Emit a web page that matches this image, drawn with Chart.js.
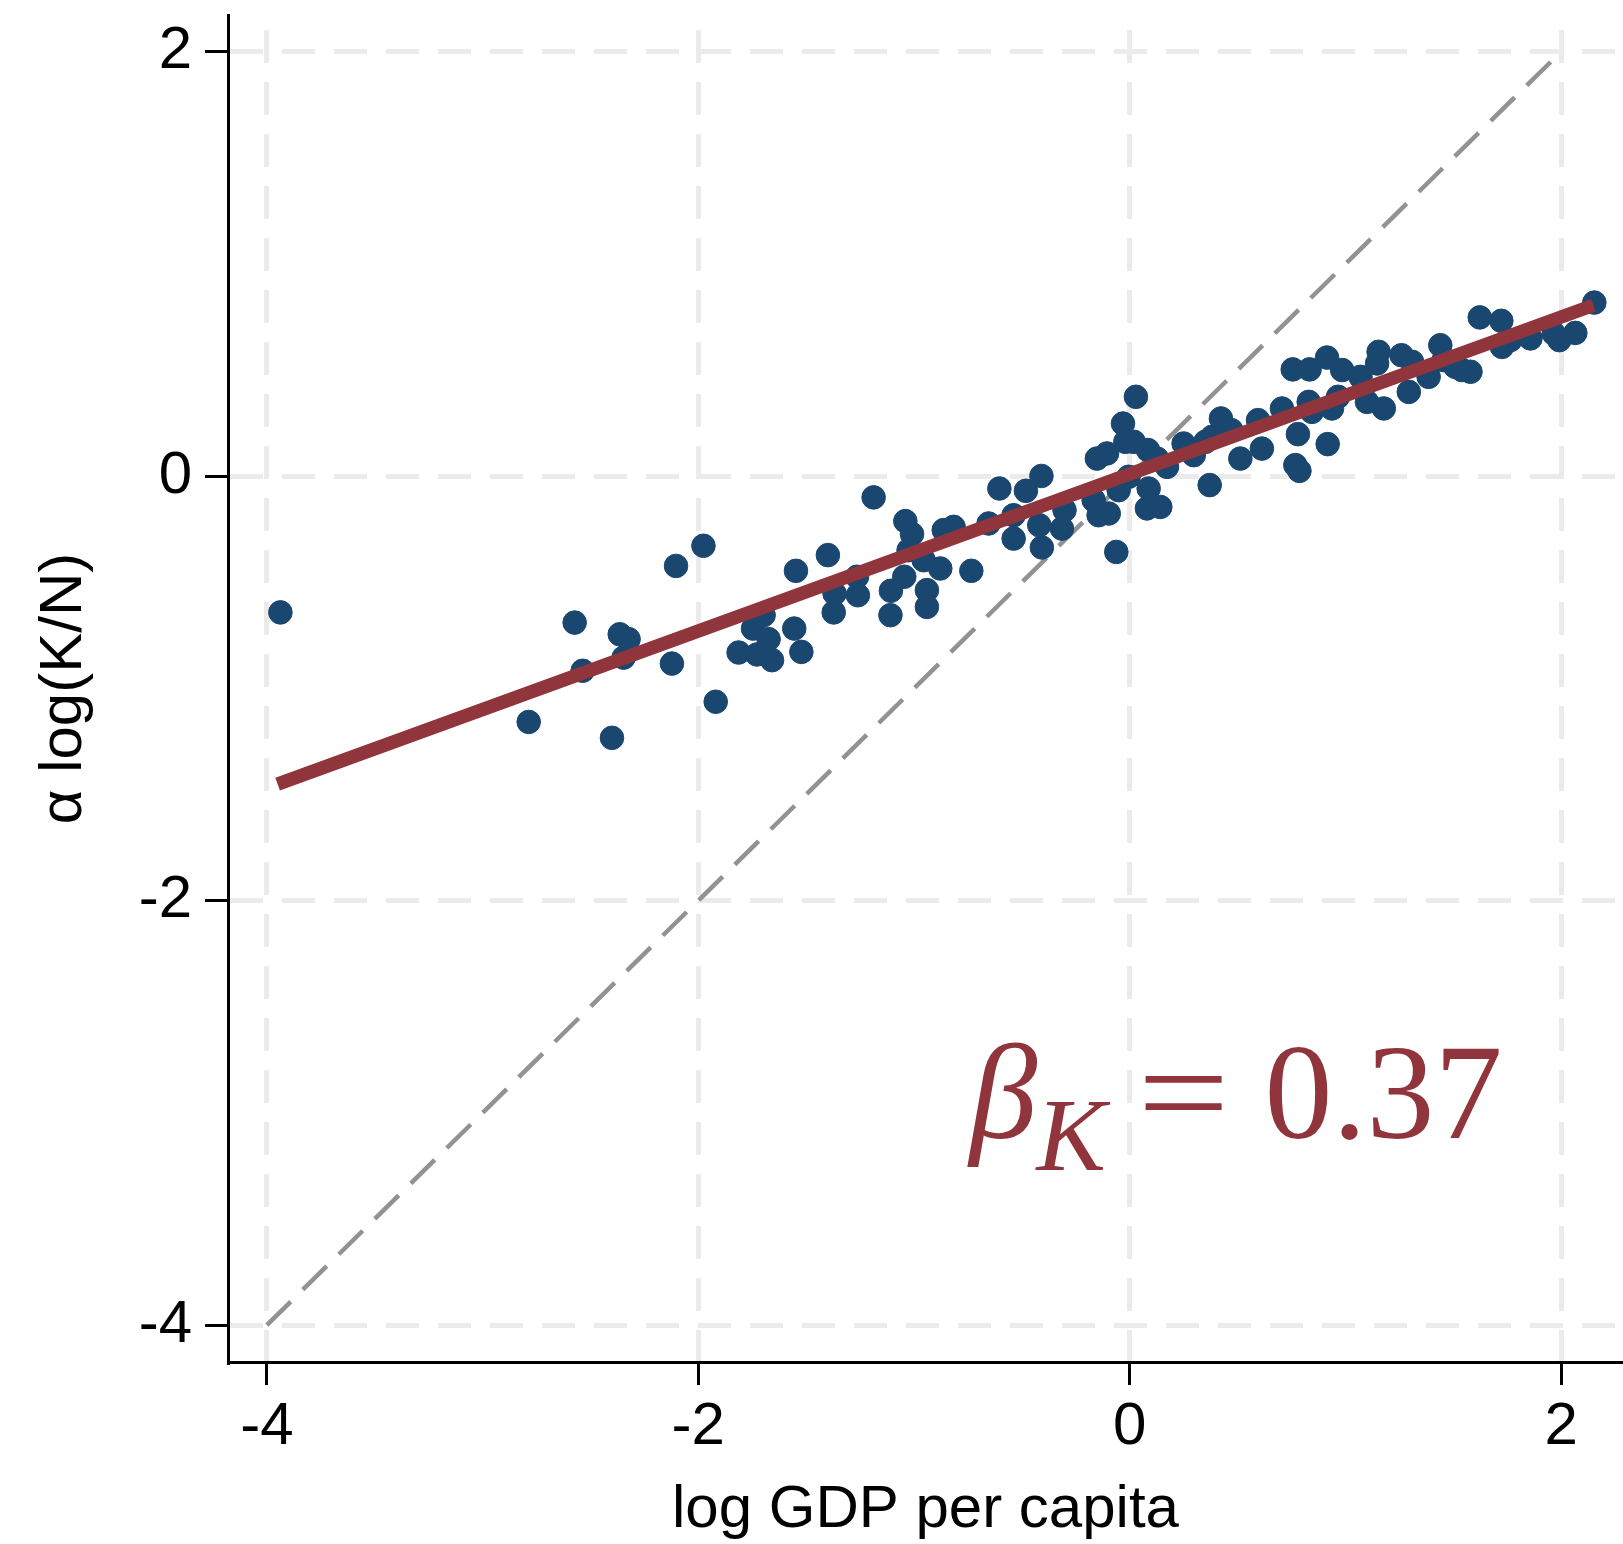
<!DOCTYPE html>
<html>
<head>
<meta charset="utf-8">
<script src="https://cdn.jsdelivr.net/npm/chart.js@4.4.1/dist/chart.umd.min.js"></script>
<style>
  html, body { margin: 0; padding: 0; background: #fff; }
  #wrap { width: 1623px; height: 1544px; position: relative; }
</style>
</head>
<body>
<div id="wrap"><canvas id="chart"></canvas></div>
<script>
// log GDP per capita, one value per country
const gdpX = [
  -3.937, -2.786, -2.573, -2.536, -2.400, -2.364, -2.323, -2.346, -2.122, -2.103,
  -1.976, -1.919, -1.813, -1.746, -1.697, -1.728, -1.674, -1.658, -1.555, -1.522,
  -1.547,
  -1.399, -1.372, -1.368, -1.260, -1.264, -1.187, -1.109, -1.107, -1.045, -1.040,
  -1.009, -1.025, -0.940, -0.940, -0.955, -0.878, -0.862, -0.816, -0.734, -0.654,
  -0.604, -0.538, -0.538, -0.481, -0.409, -0.407, -0.419, -0.314, -0.302,
  -0.144, -0.097, -0.167, -0.152, -0.105, -0.031, 0.029, -0.020, 0.019, 0.085,
  -0.051, -0.005, 0.088, 0.080, 0.142, 0.173, 0.127, -0.062, 0.250, 0.297,
  0.351, 0.382, 0.371, 0.423, 0.471, 0.513, 0.595, 0.613,
  0.706, 0.780, 0.768, 0.787, 0.830, 0.845, 0.918, 0.966, 0.938, 0.756,
  0.834, 0.915, 0.985, 1.070, 1.100, 1.178, 1.154, 1.147, 1.260, 1.309,
  1.294, 1.386, 1.440, 1.456, 1.510, 1.541, 1.580, 1.623, 1.723, 1.726,
  1.765, 1.858, 1.966, 1.992, 2.066, 2.154
];
// alpha * log(K/N), same order as gdpX
const capitalY = [
  -0.642, -1.158, -0.690, -0.917, -1.233, -0.745, -0.768, -0.855, -0.883, -0.423,
  -0.328, -1.063, -0.831, -0.718, -0.655, -0.840, -0.768, -0.867, -0.718, -0.828,
  -0.446,
  -0.372, -0.642, -0.553, -0.561, -0.474, -0.100, -0.655, -0.540, -0.474, -0.212,
  -0.273, -0.349, -0.537, -0.616, -0.396, -0.435, -0.254, -0.239, -0.446, -0.223,
  -0.058, -0.294, -0.184, -0.069, 0.001, -0.336, -0.231, -0.247, -0.160,
  -0.184, -0.176, -0.113, 0.083, 0.107, 0.248, 0.374, 0.162, 0.162, 0.123,
  -0.066, -0.003, -0.058, -0.152, -0.145, 0.044, 0.083, -0.357, 0.154, 0.099,
  0.162, 0.185, -0.042, 0.272, 0.217, 0.083, 0.264, 0.130,
  0.319, 0.198, 0.052, 0.025, 0.350, 0.303, 0.151, 0.374, 0.319, 0.503,
  0.503, 0.559, 0.500, 0.468, 0.350, 0.319, 0.586, 0.531, 0.570, 0.539,
  0.397, 0.468, 0.617, 0.547, 0.515, 0.500, 0.492, 0.748, 0.732, 0.609,
  0.641, 0.649, 0.672, 0.641, 0.675, 0.818
];

const xTickValues = [-4, -2, 0, 2];
const yTickValues = [-4, -2, 0, 2];
const xRange = [-4.18, 2.287];
const yRange = [-4.174, 2.173];

// 45-degree reference line
const diagonalX = [-4, 2];

// fitted regression line: slope and its x extent
const fitSlope = 0.37;
const fitIntercept = 0.01;
const fitX = [-3.95, 2.15];

// slope annotation anchor (data coordinates of its baseline start)
const slopeLabelAt = [-0.77, -3.12];
const slopeText = '0.37';

const NAVY = '#1A476F';
const MAROON = '#90353B';
const GRID = '#ebebeb';

const scatterPoints = gdpX.map((v, i) => ({ x: v, y: capitalY[i] }));
const diagonalPoints = diagonalX.map(v => ({ x: v, y: v }));
const fitPoints = fitX.map(v => ({ x: v, y: fitIntercept + fitSlope * v }));

const slopeLabel = {
  id: 'slopeLabel',
  afterDatasetsDraw(chart) {
    const { ctx, scales: { x, y } } = chart;
    const px = x.getPixelForValue(slopeLabelAt[0]);
    const py = y.getPixelForValue(slopeLabelAt[1]);
    ctx.save();
    ctx.fillStyle = MAROON;
    ctx.textBaseline = 'alphabetic';
    ctx.textAlign = 'left';
    ctx.font = 'italic 136px "Liberation Serif"';
    ctx.fillText('\u03B2', px + 6, py);
    ctx.font = 'italic 104px "Liberation Serif"';
    ctx.fillText('K', px + 73, py + 32);
    ctx.font = '136px "Liberation Serif"';
    ctx.save();
    ctx.translate(px + 174, py);
    ctx.scale(1.2, 1);
    ctx.fillText('=', 0, 0);
    ctx.restore();
    ctx.fillText(slopeText, px + 301, py);
    ctx.restore();
  }
};

Chart.defaults.font.family = "'Liberation Sans', Arial, Helvetica, sans-serif";
Chart.defaults.color = '#000';

new Chart(document.getElementById('chart'), {
  type: 'scatter',
  data: {
    datasets: [
      {
        type: 'line',
        data: fitPoints,
        borderColor: MAROON,
        borderWidth: 13.5,
        pointRadius: 0,
        fill: false,
        order: 0
      },
      {
        type: 'scatter',
        data: scatterPoints,
        backgroundColor: NAVY,
        borderColor: NAVY,
        borderWidth: 1,
        pointRadius: 11.8,
        order: 1
      },
      {
        type: 'line',
        data: diagonalPoints,
        borderColor: '#929292',
        borderWidth: 4.5,
        borderDash: [33.5, 17],
        pointRadius: 0,
        fill: false,
        order: 2
      }
    ]
  },
  options: {
    responsive: true,
    maintainAspectRatio: false,
    animation: false,
    devicePixelRatio: 1,
    layout: { autoPadding: false, padding: { top: 15, right: 0, left: 0, bottom: 0 } },
    plugins: {
      legend: { display: false },
      tooltip: { enabled: false }
    },
    scales: {
      x: {
        type: 'linear',
        min: xRange[0],
        max: xRange[1],
        afterBuildTicks: s => { s.ticks = xTickValues.map(v => ({ value: v })); },
        afterFit: s => {
          s.height = 182;
          s.paddingLeft = 0; s.paddingRight = 0;
        },
        ticks: {
          font: { size: 60 },
          color: '#000',
          padding: 6,
          maxRotation: 0,
          callback: v => String(v)
        },
        grid: {
          color: GRID,
          lineWidth: 5,
          tickLength: 23,
          tickColor: '#000',
          tickWidth: 3,
          tickBorderDash: []
        },
        border: { display: true, color: '#000', width: 3, dash: [33, 19], dashOffset: 37 },
        title: {
          display: true,
          text: 'log GDP per capita',
          font: { size: 60, lineHeight: 1 },
          color: '#000',
          padding: { top: 0, bottom: 4 }
        }
      },
      y: {
        type: 'linear',
        min: yRange[0],
        max: yRange[1],
        afterBuildTicks: s => { s.ticks = yTickValues.map(v => ({ value: v })); },
        afterFit: s => {
          s.width = 228;
          s.paddingTop = 0; s.paddingBottom = 0;
        },
        ticks: {
          font: { size: 60 },
          color: '#000',
          padding: 13,
          callback: v => String(v)
        },
        grid: {
          color: GRID,
          lineWidth: 5,
          tickLength: 23,
          tickColor: '#000',
          tickWidth: 3,
          tickBorderDash: []
        },
        border: { display: true, color: '#000', width: 3, dash: [33, 19], dashOffset: 0 },
        title: {
          display: true,
          text: '\u03B1 log(K/N)',
          font: { size: 60, lineHeight: 1 },
          color: '#000',
          padding: { top: 34, bottom: 0 }
        }
      }
    }
  },
  plugins: [slopeLabel]
});
</script>
</body>
</html>
